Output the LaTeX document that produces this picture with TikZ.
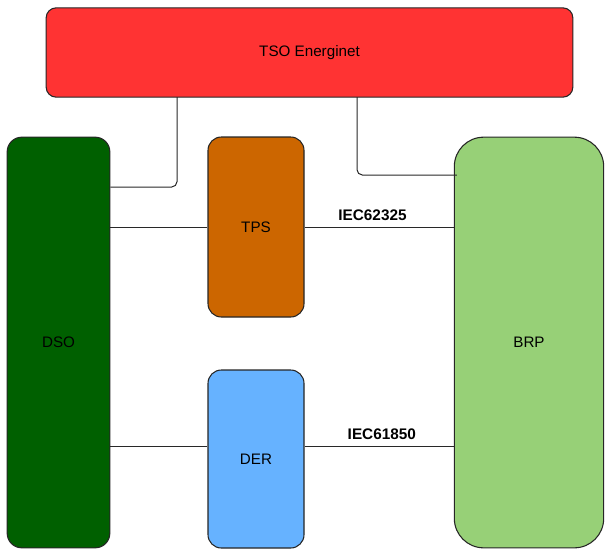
\documentclass[tikz,border=0pt]{standalone}
\usepackage{fontspec}
\setmainfont{Liberation Sans}
\usetikzlibrary{positioning,calc}
\definecolor{tsored}{RGB}{255,51,51}
\definecolor{dsogreen}{RGB}{0,96,0}
\definecolor{tpsorange}{RGB}{204,102,0}
\definecolor{derblue}{RGB}{102,178,255}
\definecolor{brpgreen}{RGB}{151,208,119}
\definecolor{linkgray}{RGB}{40,40,40}

\begin{document}
\begin{tikzpicture}[
    x=0.75pt, y=-0.75pt,
    block/.style={rectangle, draw=black!85, line width=0.8pt, align=center, font=\fontsize{11.4}{13}\selectfont, inner sep=0pt},
    link/.style={draw=linkgray, line width=0.75pt},
    proto/.style={font=\fontsize{11.5}{13}\selectfont\bfseries}
]
\useasboundingbox (0,0) rectangle (605,550);

% Actors
\node[block, fill=tsored, rounded corners=7.5pt, minimum width=395pt, minimum height=67pt] (tso) at (309.5,52.5) {TSO Energinet};
\node[block, fill=dsogreen, rounded corners=11pt, minimum width=77pt, minimum height=308pt] (dso) at (58.5,342.5) {DSO};
\node[block, fill=tpsorange, rounded corners=10pt, minimum width=72pt, minimum height=135pt] (tps) at (256,227) {TPS};
\node[block, fill=derblue, rounded corners=10pt, minimum width=72pt, minimum height=133.5pt] (der) at (256,459) {DER};
\node[block, fill=brpgreen, rounded corners=22pt, minimum width=112pt, minimum height=308pt] (brp) at (529,342.5) {BRP};

% TSO links
\coordinate (tso_l) at (177,97);
\coordinate (tso_r) at (357,97);
\draw[link, rounded corners=4pt] (tso_l) |- ($(dso.east)+(0,-155.5)$);
\draw[link, rounded corners=4pt] (tso_r) |- ($(brp.west)+(3,-167.5)$);

% Market links
\draw[link] (dso.east |- tps.west) -- (tps.west);
\draw[link] (tps.east) -- node[proto, above=1pt, xshift=-5pt] {IEC62325} (tps.east -| brp.west);
\draw[link] ([yshift=9.75pt]der.west -| dso.east) -- ([yshift=9.75pt]der.west);
\draw[link] ([yshift=9.75pt]der.east) -- node[proto, above=1pt, xshift=2pt] {IEC61850} ([yshift=9.75pt]der.east -| brp.west);
\end{tikzpicture}
\end{document}
